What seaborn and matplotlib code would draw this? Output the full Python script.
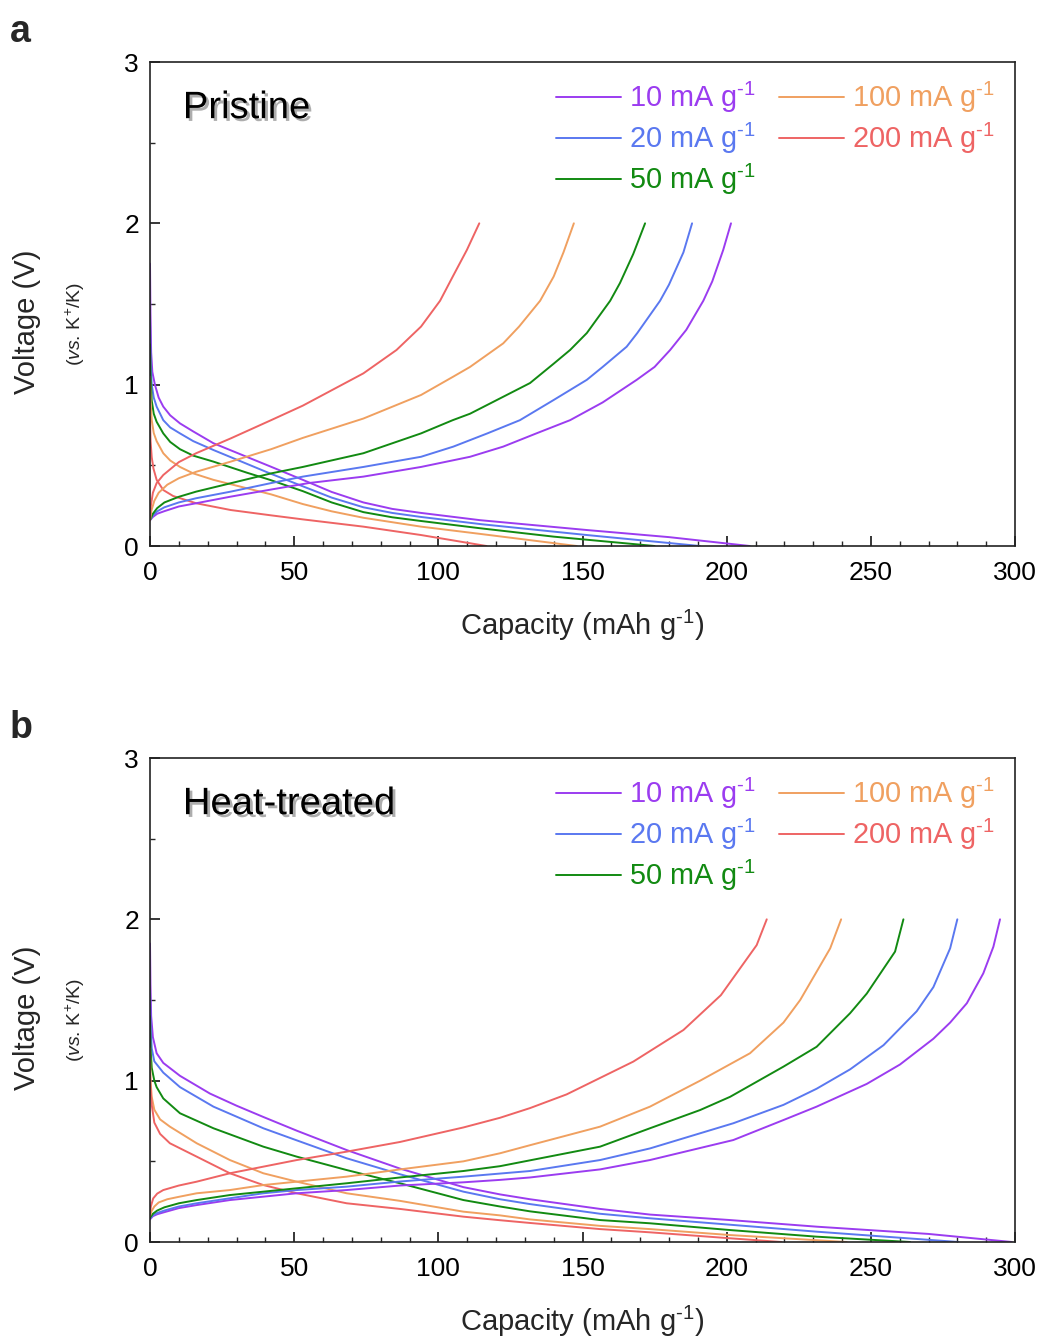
import matplotlib
matplotlib.use("Agg")
import matplotlib.pyplot as plt
import matplotlib.patheffects as pe
from matplotlib.ticker import MultipleLocator
from matplotlib.lines import Line2D
import seaborn as sns

# ---------------- data ----------------
rate_labels = [r"10 mA g$^{\text{-1}}$", r"20 mA g$^{\text{-1}}$", r"50 mA g$^{\text{-1}}$",
               r"100 mA g$^{\text{-1}}$", r"200 mA g$^{\text{-1}}$"]
colors = ["#9B3CF0", "#5A78F0", "#128A12", "#F0A060", "#EE6464"]

x_ticks = [0, 50, 100, 150, 200, 250, 300]
y_ticks = [0, 1, 2, 3]

# Panel a : Pristine  -- discharge (dis) and charge (chg)
a_dis_10_cap = [0, 0.15, 0.4, 0.8, 1.7, 3, 4.6, 7, 10.4, 15, 22, 33.5, 41.6, 53, 63, 74, 84, 94, 114.5, 151.5, 180, 208]
a_dis_10_v = [1.75, 1.45, 1.2, 1.08, 1.0, 0.92, 0.864, 0.81, 0.76, 0.71, 0.637, 0.553, 0.494, 0.41, 0.335, 0.27, 0.23, 0.205, 0.16, 0.099, 0.055, 0.0]
a_dis_20_cap = [0, 0.2, 0.6, 1.3, 2.3, 4.6, 7, 10.4, 15, 22, 33.5, 41.6, 53, 63, 74, 84, 94, 115, 151.5, 190.7]
a_dis_20_v = [1.4, 1.15, 1.0, 0.92, 0.864, 0.78, 0.735, 0.698, 0.65, 0.595, 0.51, 0.45, 0.37, 0.3, 0.24, 0.205, 0.18, 0.135, 0.068, 0.0]
a_dis_50_cap = [0, 0.2, 0.6, 1.3, 2.3, 4.6, 7, 10.4, 15, 22, 33.5, 41.6, 53, 63, 74, 84, 94, 114.5, 140, 175]
a_dis_50_v = [1.25, 1.05, 0.9, 0.82, 0.77, 0.698, 0.645, 0.6, 0.56, 0.523, 0.455, 0.41, 0.34, 0.27, 0.21, 0.178, 0.155, 0.11, 0.058, 0.0]
a_dis_100_cap = [0, 0.2, 0.6, 1.3, 2.3, 4.6, 7, 10.4, 15, 22, 32, 42, 53, 63, 74, 94, 114.5, 148]
a_dis_100_v = [1.05, 0.9, 0.78, 0.7, 0.65, 0.575, 0.53, 0.49, 0.45, 0.41, 0.365, 0.32, 0.26, 0.215, 0.175, 0.12, 0.075, 0.0]
a_dis_200_cap = [0, 0.2, 0.6, 1.2, 2.3, 4.6, 8, 16, 28, 42, 53, 74, 94, 116.7]
a_dis_200_v = [0.8, 0.65, 0.55, 0.48, 0.41, 0.347, 0.31, 0.265, 0.223, 0.19, 0.165, 0.12, 0.068, 0.0]

a_chg_10_cap = [0, 1, 2.5, 5, 10, 16, 28, 42, 55, 74, 94, 111, 122.5, 134, 145.7, 157, 168.8, 175, 180.4, 186, 191.9, 195, 198.8, 201.5]
a_chg_10_v = [0.16, 0.18, 0.2, 0.216, 0.245, 0.265, 0.306, 0.35, 0.39, 0.43, 0.49, 0.553, 0.616, 0.698, 0.78, 0.89, 1.03, 1.11, 1.215, 1.34, 1.52, 1.64, 1.835, 2.0]
a_chg_20_cap = [0, 1, 2.5, 5, 10, 16, 28, 42, 53, 74, 94, 105.2, 117, 128.3, 140, 151.5, 157, 165.3, 169, 176.9, 180, 185, 188]
a_chg_20_v = [0.16, 0.19, 0.215, 0.24, 0.27, 0.296, 0.337, 0.39, 0.43, 0.49, 0.553, 0.616, 0.698, 0.78, 0.905, 1.03, 1.11, 1.235, 1.32, 1.52, 1.62, 1.82, 2.0]
a_chg_50_cap = [0, 1, 2.5, 5, 10, 16, 28, 42, 53, 74, 94, 105, 111, 122.5, 131.8, 140, 145.7, 151.5, 159.6, 163, 167.6, 171.7]
a_chg_50_v = [0.16, 0.2, 0.235, 0.27, 0.305, 0.337, 0.389, 0.45, 0.49, 0.575, 0.698, 0.78, 0.82, 0.925, 1.01, 1.13, 1.215, 1.32, 1.52, 1.63, 1.81, 2.0]
a_chg_100_cap = [0, 0.5, 1.5, 3, 6, 10, 16, 28, 42, 53, 74, 94, 105.2, 111, 122.5, 128, 135.3, 140, 143.4, 147]
a_chg_100_v = [0.16, 0.22, 0.28, 0.33, 0.38, 0.42, 0.46, 0.523, 0.6, 0.67, 0.79, 0.936, 1.05, 1.11, 1.256, 1.36, 1.52, 1.67, 1.82, 2.0]
a_chg_200_cap = [0, 0.3, 1, 2.3, 4.6, 10, 16, 28, 42, 53, 74, 85.5, 94, 100.6, 105, 109.9, 114.2]
a_chg_200_v = [0.16, 0.25, 0.33, 0.39, 0.44, 0.52, 0.575, 0.667, 0.78, 0.87, 1.07, 1.215, 1.36, 1.52, 1.67, 1.835, 2.0]

# Panel b : Heat-treated
b_dis_10_cap = [0, 0.15, 0.4, 1, 2.3, 4.6, 10.4, 20.8, 30, 39.3, 50.9, 68.2, 86.7, 108.7, 121.4, 131.8, 156.1, 173.4, 201.2, 231.2, 270, 298.9]
b_dis_10_v = [1.85, 1.6, 1.4, 1.27, 1.17, 1.11, 1.03, 0.92, 0.845, 0.775, 0.69, 0.57, 0.455, 0.34, 0.295, 0.265, 0.205, 0.17, 0.136, 0.095, 0.05, 0.0]
b_dis_20_cap = [0, 0.2, 0.6, 1.5, 4.6, 10.4, 22, 39.3, 50.9, 68.2, 86.7, 108.7, 121.4, 131.8, 156.1, 173.4, 231.2, 280.4]
b_dis_20_v = [1.55, 1.35, 1.2, 1.12, 1.05, 0.96, 0.839, 0.705, 0.63, 0.519, 0.42, 0.312, 0.265, 0.235, 0.175, 0.147, 0.064, 0.0]
b_dis_50_cap = [0, 0.2, 0.6, 1.5, 2.3, 4.6, 10.4, 22, 39.3, 50.9, 68.2, 86.7, 108.7, 121.4, 131.8, 156.1, 173.4, 201.2, 231.2, 263.6]
b_dis_50_v = [1.4, 1.2, 1.08, 1.0, 0.96, 0.89, 0.798, 0.705, 0.591, 0.529, 0.446, 0.364, 0.26, 0.22, 0.19, 0.136, 0.116, 0.074, 0.033, 0.0]
b_dis_100_cap = [0, 0.2, 0.6, 1.5, 3.5, 6.9, 16.2, 27.7, 39.3, 50.9, 68.2, 86.7, 108.7, 121.4, 131.8, 156.1, 173.4, 201.2, 241.6]
b_dis_100_v = [1.2, 1.0, 0.9, 0.82, 0.76, 0.715, 0.612, 0.508, 0.426, 0.374, 0.302, 0.255, 0.188, 0.165, 0.14, 0.1, 0.08, 0.043, 0.0]
b_dis_200_cap = [0, 0.2, 0.6, 1.5, 3.5, 6.9, 16.2, 27.7, 39.3, 50.9, 68.2, 86.7, 108.7, 121.4, 131.8, 156.1, 173.4, 201.2, 219]
b_dis_200_v = [1.05, 0.95, 0.85, 0.74, 0.67, 0.612, 0.529, 0.426, 0.353, 0.302, 0.24, 0.205, 0.157, 0.135, 0.118, 0.08, 0.06, 0.023, 0.0]

b_chg_10_cap = [0, 1, 2.5, 5, 10, 16.2, 27.7, 39.3, 50.9, 68.2, 86.7, 108.7, 121.4, 131.8, 156.1, 173.4, 202.3, 219.7, 231.2, 248.6, 260.1, 271.7, 277.5, 283.3, 289, 292.5, 294.8]
b_chg_10_v = [0.14, 0.16, 0.172, 0.185, 0.21, 0.229, 0.26, 0.281, 0.302, 0.322, 0.35, 0.37, 0.385, 0.4, 0.45, 0.508, 0.632, 0.756, 0.839, 0.98, 1.1, 1.26, 1.36, 1.48, 1.665, 1.83, 2.0]
b_chg_20_cap = [0, 1, 2.5, 5, 10, 16.2, 27.7, 39.3, 50.9, 68.2, 86.7, 108.7, 131.8, 156.1, 173.4, 202.3, 219.7, 231.2, 242.8, 254.4, 265.9, 271.7, 277.5, 280]
b_chg_20_v = [0.145, 0.165, 0.18, 0.195, 0.22, 0.24, 0.271, 0.302, 0.322, 0.343, 0.375, 0.405, 0.44, 0.508, 0.58, 0.736, 0.85, 0.95, 1.07, 1.22, 1.43, 1.58, 1.82, 2.0]
b_chg_50_cap = [0, 1, 2.5, 5, 10, 16.2, 27.7, 39.3, 50.9, 68.2, 86.7, 108.7, 121.4, 156.1, 173.4, 190.8, 201.2, 219.7, 231.2, 242.8, 248.6, 258.4, 261.3]
b_chg_50_v = [0.15, 0.175, 0.195, 0.215, 0.24, 0.26, 0.291, 0.312, 0.333, 0.364, 0.4, 0.44, 0.47, 0.591, 0.705, 0.818, 0.9, 1.087, 1.21, 1.418, 1.54, 1.8, 2.0]
b_chg_100_cap = [0, 0.5, 1.5, 3, 6, 10, 16.2, 27.7, 39.3, 50.9, 68.2, 86.7, 108.7, 121.4, 131.8, 156.1, 173.4, 190.8, 208.1, 219.7, 225.5, 235.9, 239.7]
b_chg_100_v = [0.16, 0.19, 0.22, 0.245, 0.265, 0.28, 0.302, 0.322, 0.353, 0.374, 0.405, 0.45, 0.5, 0.55, 0.6, 0.715, 0.839, 1.0, 1.17, 1.36, 1.5, 1.82, 2.0]
b_chg_200_cap = [0, 0.3, 1.1, 2.5, 4.6, 10, 16.2, 27.7, 39.3, 50.9, 68.2, 86.7, 108.7, 121.4, 131.8, 144.5, 167.6, 185, 198, 210.4, 213.9]
b_chg_200_v = [0.178, 0.22, 0.27, 0.3, 0.322, 0.35, 0.374, 0.426, 0.467, 0.508, 0.56, 0.62, 0.71, 0.77, 0.83, 0.915, 1.118, 1.314, 1.53, 1.84, 2.0]

panels = [
    dict(letter="a", title="Pristine",
         dis=[(a_dis_10_cap, a_dis_10_v), (a_dis_20_cap, a_dis_20_v), (a_dis_50_cap, a_dis_50_v),
              (a_dis_100_cap, a_dis_100_v), (a_dis_200_cap, a_dis_200_v)],
         chg=[(a_chg_10_cap, a_chg_10_v), (a_chg_20_cap, a_chg_20_v), (a_chg_50_cap, a_chg_50_v),
              (a_chg_100_cap, a_chg_100_v), (a_chg_200_cap, a_chg_200_v)]),
    dict(letter="b", title="Heat-treated",
         dis=[(b_dis_10_cap, b_dis_10_v), (b_dis_20_cap, b_dis_20_v), (b_dis_50_cap, b_dis_50_v),
              (b_dis_100_cap, b_dis_100_v), (b_dis_200_cap, b_dis_200_v)],
         chg=[(b_chg_10_cap, b_chg_10_v), (b_chg_20_cap, b_chg_20_v), (b_chg_50_cap, b_chg_50_v),
              (b_chg_100_cap, b_chg_100_v), (b_chg_200_cap, b_chg_200_v)]),
]

# ---------------- style ----------------
sns.set_style("ticks")
plt.rcParams["font.family"] = ["Liberation Sans", "DejaVu Sans"]
plt.rcParams["mathtext.fontset"] = "custom"
plt.rcParams["mathtext.rm"] = "Liberation Sans"
plt.rcParams["mathtext.it"] = "Liberation Sans:italic"
plt.rcParams["mathtext.bf"] = "Liberation Sans:bold"
plt.rcParams["lines.solid_joinstyle"] = "round"

W, H = 1044, 1338
fig = plt.figure(figsize=(W / 100, H / 100), dpi=100)

axes_px = [(150, 62, 1015, 546), (150, 758, 1015, 1242)]
letter_base = [42, 738]
ylab_center = [322, 1018]

for i, (p, (l, t, r, b)) in enumerate(zip(panels, axes_px)):
    ax = fig.add_axes([l / W, 1 - b / H, (r - l) / W, (b - t) / H])
    for (cap, v), c in zip(p["dis"], colors):
        sns.lineplot(x=cap, y=v, ax=ax, color=c, lw=1.4, sort=False, estimator=None)
    for (cap, v), c in zip(p["chg"], colors):
        sns.lineplot(x=cap, y=v, ax=ax, color=c, lw=1.4, sort=False, estimator=None)

    ax.set_xlim(0, 300)
    ax.set_ylim(0, 3)
    ax.set_xticks(x_ticks)
    ax.set_yticks(y_ticks)
    ax.xaxis.set_minor_locator(MultipleLocator(10))
    ax.yaxis.set_minor_locator(MultipleLocator(0.5))
    ax.tick_params(which="major", direction="in", length=7.5, width=1.1,
                   labelsize=19, pad=8, top=False, right=False, colors="black")
    ax.tick_params(axis="x", which="major", pad=11)
    ax.tick_params(which="minor", direction="in", length=3.8, width=1.0,
                   top=False, right=False)
    for s in ax.spines.values():
        s.set_visible(True)
        s.set_linewidth(1.2)
        s.set_color("#222222")

    ax.set_xlabel(r"Capacity (mAh g$^{\text{-1}}$)", fontsize=21, labelpad=16)
    ax.set_ylabel("")

    ax.text(0.038, 0.884, p["title"], transform=ax.transAxes, fontsize=27.5,
            ha="left", va="baseline", color="black",
            path_effects=[pe.withSimplePatchShadow(offset=(2, -2),
                                                   shadow_rgbFace="#777777", alpha=0.6)])

    handles = [Line2D([], [], color=c, lw=1.4) for c in colors]
    ax.legend(handles, rate_labels, ncol=2, loc="upper right",
              bbox_to_anchor=(0.977, 0.963), frameon=False, fontsize=20.8,
              handlelength=2.25, handletextpad=0.28, columnspacing=0.8,
              labelspacing=0.2, borderaxespad=0, borderpad=0,
              labelcolor="linecolor")

    fig.text(10 / W, 1 - letter_base[i] / H, p["letter"], fontsize=27,
             fontweight="bold", ha="left", va="baseline")
    fig.text(27 / W, 1 - ylab_center[i] / H, "Voltage (V)", rotation=90,
             fontsize=21, ha="center", va="center")
    fig.text(75 / W, 1 - (ylab_center[i] + 2) / H, r"($\mathit{vs}$. K$^{+}$/K)",
             rotation=90, fontsize=14, ha="center", va="center")

fig.savefig("out.png", dpi=100)
